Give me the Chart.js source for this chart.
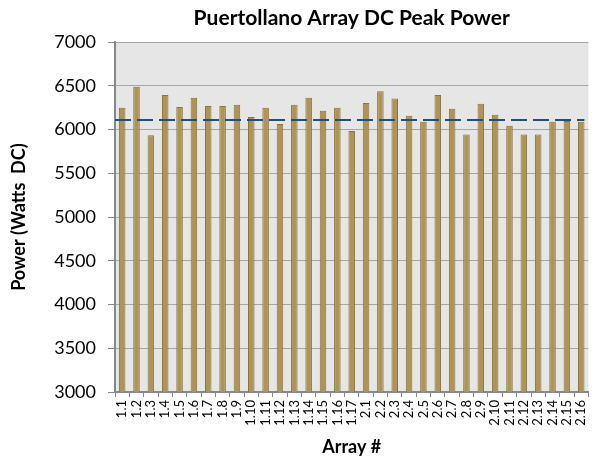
<!DOCTYPE html>
<html>
<head>
<meta charset="utf-8">
<script src="https://cdn.jsdelivr.net/npm/chart.js@4.4.1/dist/chart.umd.min.js"></script>
<style>
  html, body { margin: 0; padding: 0; background: #fff; }
  #wrap { width: 600px; height: 462px; position: relative; }
</style>
</head>
<body>
<div id="wrap"><canvas id="powerChart"></canvas></div>
<script>
const arrayLabels = [
  "1.1", "1.2", "1.3", "1.4", "1.5", "1.6", "1.7", "1.8", "1.9", "1.10", "1.11",
  "1.12", "1.13", "1.14", "1.15", "1.16", "1.17",
  "2.1", "2.2", "2.3", "2.4", "2.5", "2.6", "2.7", "2.8", "2.9", "2.10", "2.11",
  "2.12", "2.13", "2.14", "2.15", "2.16"
];
const peakPower = [
  6250, 6490, 5935, 6395, 6260, 6365, 6270, 6270, 6285, 6145, 6250,
  6065, 6285, 6365, 6215, 6250, 5985,
  6305, 6440, 6355, 6160, 6090, 6395, 6240, 5945, 6295, 6170, 6045,
  5945, 5945, 6090, 6100, 6090
];
const averagePower = 6110;
const yTicks = [3000, 3500, 4000, 4500, 5000, 5500, 6000, 6500, 7000];

const FONT = "Lato, 'Open Sans', sans-serif";

// grey plot background + dashed average line
const plotDecor = {
  id: "plotDecor",
  beforeDraw(chart) {
    const { ctx, chartArea: a } = chart;
    ctx.save();
    ctx.fillStyle = "#e6e6e6";
    ctx.fillRect(a.left, a.top, a.right - a.left, a.bottom - a.top);
    ctx.restore();
  },
  afterDatasetsDraw(chart) {
    const { ctx, chartArea: a, scales } = chart;
    const y = scales.y.getPixelForValue(averagePower);
    ctx.save();
    ctx.strokeStyle = "#1a4f8b";
    ctx.lineWidth = 2;
    ctx.setLineDash([16, 6]);
    ctx.beginPath();
    ctx.moveTo(a.left, y);
    ctx.lineTo(a.right - 4, y);
    ctx.stroke();
    ctx.restore();
  }
};

new Chart(document.getElementById("powerChart"), {
  type: "bar",
  data: {
    labels: arrayLabels,
    datasets: [{
      label: "DC Peak Power",
      data: peakPower,
      backgroundColor: "#b09456",
      borderColor: "#8a7343",
      borderWidth: 1,
      barPercentage: 0.48,
      categoryPercentage: 0.95,
    }],
  },
  options: {
    responsive: true,
    maintainAspectRatio: false,
    animation: false,
    layout: { padding: { top: 0, right: 2, bottom: 0, left: 8 } },
    plugins: {
      legend: { display: false },
      tooltip: { enabled: false },
      title: {
        display: true,
        fullSize: false,
        text: "Puertollano Array DC Peak Power",
        color: "#000",
        font: { family: FONT, size: 21, weight: "bold" },
        padding: { top: 6, bottom: 11 },
      },
    },
    scales: {
      x: {
        afterFit: scale => { scale.height = 70; },
        grid: { display: true, drawOnChartArea: false, offset: true, tickLength: 5, color: "#888" },
        border: { color: "#888", width: 2 },
        ticks: {
          color: "#000",
          font: { family: FONT, size: 13 },
          minRotation: 90,
          maxRotation: 90,
          autoSkip: false,
          padding: 3,
        },
        title: {
          display: true,
          text: "Array #",
          color: "#000",
          font: { family: FONT, size: 18, weight: "bold" },
          padding: { top: 0, bottom: 4 },
        },
      },
      y: {
        min: 3000,
        max: 7000,
        afterBuildTicks: scale => { scale.ticks = yTicks.map(v => ({ value: v })); },
        afterFit: scale => { scale.width = 107; },
        grid: { color: "#a6a6a6", tickLength: 7, tickColor: "#888" },
        border: { color: "#888", width: 2 },
        ticks: {
          color: "#000",
          font: { family: FONT, size: 18 },
          padding: 12,
          callback: v => String(v),
        },
        title: {
          display: true,
          text: "Power (Watts  DC)",
          color: "#000",
          font: { family: FONT, size: 18, weight: "bold" },
          padding: { top: 0, bottom: 6 },
        },
      },
    },
  },
  plugins: [plotDecor],
});
</script>
</body>
</html>
